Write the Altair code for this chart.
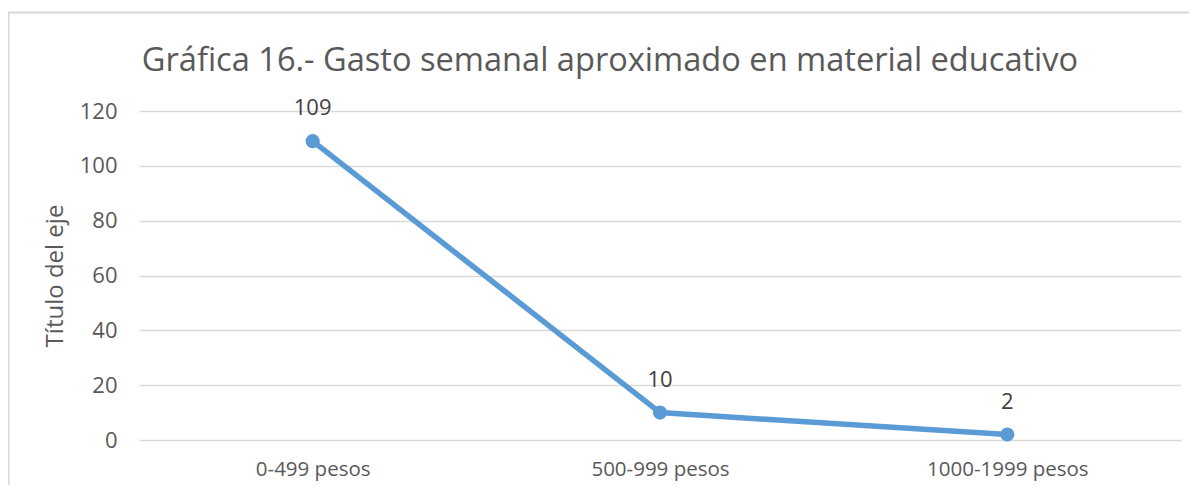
import altair as alt
import pandas as pd

categories = ["0-499 pesos", "500-999 pesos", "1000-1999 pesos"]
values = [109, 10, 2]
y_ticks = [0, 20, 40, 60, 80, 100, 120]
title_text = "Gráfica 16.- Gasto semanal aproximado en material educativo"

df = pd.DataFrame({"cat": categories, "val": values})

FONT = "Open Sans"
W, H = 1042, 329

base = alt.Chart(df).encode(
    x=alt.X("cat:N", sort=categories, title=None,
            scale=alt.Scale(type="point", padding=0.5),
            axis=alt.Axis(labelAngle=0, labelFontSize=20.5, labelColor="#595959",
                          labelFont=FONT, labelPadding=19, ticks=False, domain=False,
                          grid=False)),
    y=alt.Y("val:Q", title="Título del eje",
            scale=alt.Scale(domain=[0, 120], nice=False),
            axis=alt.Axis(values=y_ticks, labelFontSize=22, labelColor="#595959",
                          labelFont=FONT, labelPadding=22, ticks=False, domain=False,
                          gridColor="#D9D9D9", gridWidth=1.3,
                          titleFont=FONT, titleFontSize=24, titleFontWeight="normal",
                          titleColor="#595959", titlePadding=12)),
)

border = alt.Chart(df).mark_rect(fill=None, stroke="#D9D9D9", strokeWidth=1.5, clip=False).encode(
    x=alt.value(-130.5), x2=alt.value(1070), y=alt.value(-98.5), y2=alt.value(420)
)

title = alt.Chart(pd.DataFrame({"t": [title_text]})).mark_text(
    font=FONT, fontSize=32.6, color="#595959", align="center", baseline="alphabetic"
).encode(x=alt.value(471), y=alt.value(-40), text="t:N")

line = base.mark_line(color="#5B9BD5", strokeWidth=5.5)
points = base.mark_circle(color="#5B9BD5", size=200, opacity=1)
labels = base.mark_text(dy=-33, fontSize=22, color="#404040", font=FONT).encode(text="val:Q")

chart = alt.layer(border, title, line, points, labels).properties(
    width=W, height=H,
    autosize=alt.AutoSizeParams(type="none"),
    padding={"left": 131, "top": 103, "right": 8, "bottom": 45},
).configure_view(stroke=None)

chart.save("out.html", embed_options={"renderer": "svg", "actions": False})
